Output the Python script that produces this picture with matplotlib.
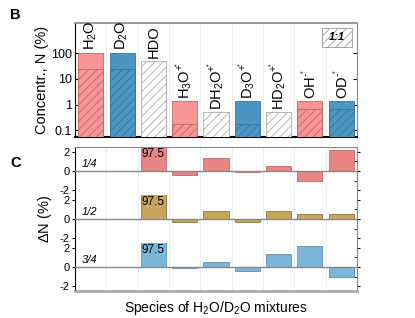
import numpy as np
import matplotlib.pyplot as plt
from matplotlib.patches import Rectangle

# species and labels
species = ["H2O", "D2O", "HDO", "H3O+", "DH2O+", "D3O+", "HD2O+", "OH-", "OD-"]
species_tex = [r"H$_2$O", r"D$_2$O", "HDO", r"H$_3$O$^{+\!^{*}}$", r"DH$_2$O$^{+\!^{*}}$",
               r"D$_3$O$^{+\!^{*}}$", r"HD$_2$O$^{+\!^{*}}$", r"OH$^{\text{-}^{*}}$",
               r"OD$^{\text{-}^{*}}$"]

# panel B: pure-water concentration and 1:1 mixture concentration (%)
pure_conc = [100, 100, 0, 1.35, 0, 1.35, 0, 1.35, 1.35]
mix_conc = [25, 25, 50, 0.17, 0.5, 0.17, 0.5, 0.65, 0.65]
pure_kind = ["H", "D", "X", "H", "X", "D", "X", "H", "D"]

# panel C: change of concentration for different mixing ratios
ratios = ["1/4", "1/2", "3/4"]
dN_14 = [0, 0, 97.5, -0.45, 1.33, -0.14, 0.5, -1.0, 2.2]
dN_12 = [0, 0, 97.5, -0.3, 0.87, -0.35, 0.87, 0.55, 0.55]
dN_34 = [0, 0, 97.5, -0.15, 0.5, -0.45, 1.37, 2.2, -1.0]

top_col = {"H": "#F99595", "D": "#4C96C4", "X": "white"}
edge_col = {"H": "#B86A6A", "D": "#3A7299", "X": "#AAAAAA"}
low_cols = ["#E88585", "#C8A55C", "#7DB6DA"]
low_edges = ["#C06868", "#8E7440", "#5B8FB3"]

plt.rcParams["font.family"] = "Liberation Sans"
plt.rcParams["mathtext.fontset"] = "custom"
plt.rcParams["mathtext.rm"] = "Liberation Sans"
plt.rcParams["mathtext.it"] = "Liberation Sans:italic"
plt.rcParams["mathtext.bf"] = "Liberation Sans:bold"
plt.rcParams["hatch.linewidth"] = 0.6

fig = plt.figure(figsize=(4.15, 3.18), dpi=100)
x = np.arange(len(species))

# ---- panel B
ax = fig.add_axes([0.181, 0.569, 0.679, 0.359])
for i in range(len(species)):
    k = pure_kind[i]
    if pure_conc[i] > 0:
        ax.bar(x[i], pure_conc[i], 0.8, color=top_col[k], edgecolor=edge_col[k], lw=0.6, zorder=2)
    plt.rcParams["hatch.color"] = edge_col[k]
    ax.bar(x[i], mix_conc[i], 0.8, color=top_col[k] if k != "X" else "white",
           edgecolor=edge_col[k], hatch="////", lw=0.6, zorder=3)
    top = max(pure_conc[i], mix_conc[i])
    ax.annotate(species_tex[i], (x[i], top), xytext=(0, 2), textcoords="offset points",
                rotation=90, ha="center", va="bottom", fontsize=10.5)
ax.set_yscale("log")
ax.set_ylim(0.055, 1500)
ax.set_xlim(-0.5, len(species) - 0.5)
ax.set_xticks([])
ax.set_yticks([0.1, 1, 10, 100])
ax.set_yticklabels(["0.1", "1", "10", "100"], fontsize=9)
ax.tick_params(axis="y", which="both", direction="in", right=True, length=3, pad=2)
ax.tick_params(axis="y", which="minor", length=1.5)
for b in x[:-1]:
    ax.axvline(b + 0.5, color="#EEEEEE", lw=0.8, zorder=0)
ax.spines["top"].set_color("#888888")
ax.spines["top"].set_linewidth(1.2)
ax.spines["right"].set_color("#888888")
ax.spines["bottom"].set_linewidth(1.5)
ax.spines["left"].set_linewidth(0.8)
ax.set_ylabel("Concentr., N (%)", fontsize=10.5, labelpad=2)
plt.rcParams["hatch.color"] = "#888888"
ax.add_patch(Rectangle((0.876, 0.79), 0.106, 0.166, transform=ax.transAxes,
                       facecolor="white", edgecolor="#999999", hatch="////", lw=0.6, zorder=4))
ax.text(0.929, 0.873, "1:1", transform=ax.transAxes, ha="center", va="center",
        fontsize=8, fontweight="bold", style="italic", zorder=5)
fig.text(0.025, 0.953, "B", fontsize=10.5, fontweight="bold", va="center")

# ---- panel C
dN = [dN_14, dN_12, dN_34]
h = 48 / 318
axes_c = []
for j in range(3):
    a = fig.add_axes([0.181, 1 - 147 / 318 - (j + 1) * h, 0.679, h])
    a.bar(x, dN[j], 0.8, color=low_cols[j], edgecolor=low_edges[j], lw=0.6, zorder=2)
    a.axhline(0, color="#888888", lw=1, zorder=3)
    for b in x[:-1]:
        a.axvline(b + 0.5, color="#EEEEEE", lw=0.8, zorder=0)
    a.text(2, 2.35, "97.5", ha="center", va="top", fontsize=8.5, zorder=4)
    a.text(-0.05, 0.75, ratios[j], style="italic", fontsize=8, ha="center", va="center")
    a.set_ylim(-2.5, 2.5)
    a.set_xlim(-0.5, len(species) - 0.5)
    a.set_xticks([])
    a.set_yticks([-2, 0, 2])
    a.set_yticklabels(["-2", "0", "2"], fontsize=8)
    a.set_yticks([-2, -1, 0, 1, 2], minor=True)
    a.tick_params(axis="y", which="both", right=True, length=2, pad=2)
    a.tick_params(axis="y", which="minor", left=False, direction="in")
    a.spines["top"].set_visible(j == 0)
    a.spines["top"].set_color("#888888")
    a.spines["bottom"].set_visible(j == 2)
    a.spines["bottom"].set_color("#AAAAAA")
    a.spines["bottom"].set_linewidth(2)
    a.spines["right"].set_color("#888888")
    a.spines["left"].set_linewidth(0.8)
    a.patch.set_alpha(0)
    axes_c.append(a)
axes_c[1].set_ylabel(r"$\Delta$N (%)", fontsize=10.5, labelpad=4)
axes_c[2].set_xlabel(r"Species of H$_2$O/D$_2$O mixtures", fontsize=10, labelpad=6)
fig.text(0.025, 0.487, "C", fontsize=10.5, fontweight="bold", va="center")

fig.savefig("out.png", dpi=100)
